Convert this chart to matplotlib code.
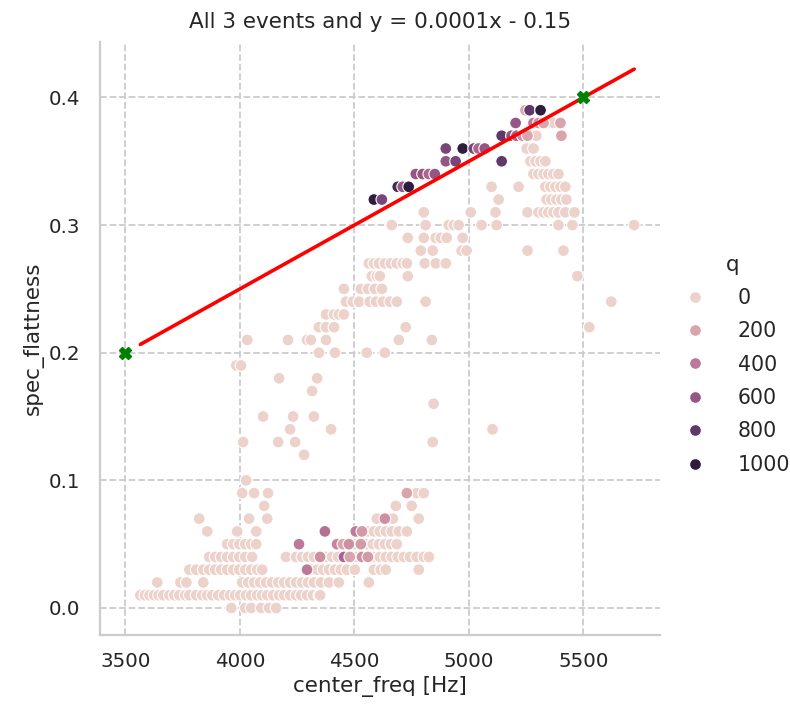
import matplotlib
matplotlib.use("Agg")
import numpy as np
import pandas as pd
import matplotlib.pyplot as plt
import seaborn as sns

# light points (q = 0), one row of spec_flattness per line
rows_flat = [0.00, 0.01, 0.02, 0.03, 0.04, 0.05, 0.06, 0.07, 0.08, 0.09, 0.10,
             0.12, 0.13, 0.14, 0.15, 0.16, 0.17, 0.18, 0.19, 0.20, 0.21, 0.22,
             0.23, 0.24, 0.25, 0.26, 0.27, 0.28, 0.29, 0.30, 0.31, 0.32, 0.33,
             0.34, 0.35, 0.36, 0.37, 0.38]
rows_freq = [
    [3962, 4023, 4049, 4093, 4127, 4158],
    [3565, 3585, 3605, 3625, 3645, 3665, 3692, 3713, 3735, 3761, 3779, 3809, 3835,
     3857, 3879, 3905, 3931, 3957, 3979, 4001, 4027, 4049, 4075, 4097, 4119, 4145,
     4171, 4193, 4219, 4245, 4267, 4293, 4319, 4345, 4350],
    [3639, 3740, 3766, 3840, 4010, 4036, 4062, 4088, 4114, 4140, 4167, 4193, 4219,
     4245, 4271, 4297, 4323, 4354, 4389, 4432, 4563],
    [3779, 3809, 3840, 3866, 3892, 3918, 3944, 3971, 3997, 4023, 4049, 4075, 4097,
     4315, 4337, 4363, 4389, 4415, 4441, 4467, 4502, 4585, 4615, 4637, 4781],
    [3866, 3892, 3918, 3944, 3971, 3997, 4023, 4053, 4201, 4245, 4271, 4297, 4323,
     4376, 4402, 4428, 4506, 4585, 4611, 4637, 4663, 4689, 4716, 4742, 4772, 4803, 4825],
    [3944, 3971, 3997, 4023, 4049, 4071, 4502, 4554, 4580, 4607, 4633, 4659, 4685],
    [3857, 3988, 4071, 4559, 4585, 4611, 4637, 4663, 4694, 4729],
    [3822, 4040, 4119, 4598, 4668, 4781],
    [4106, 4681, 4750],
    [4010, 4062, 4123, 4772, 4803],
    [4027],
    [4280],
    [4014, 4167, 4241, 4842],
    [4219, 4398, 5103],
    [4101, 4232, 4323],
    [4846],
    [4315],
    [4171, 4337],
    [3984, 4005],
    [4345, 4415, 4554, 4633],
    [4032, 4210, 4293, 4310, 4376, 4694, 4838],
    [4345, 4376, 4411, 4724, 5526],
    [4376, 4411, 4432, 4454],
    [4463, 4493, 4520, 4567, 4594, 4624, 4655, 4685, 4811, 5622],
    [4454, 4528, 4559, 4589, 4620],
    [4576, 4598, 4611, 4733, 5474],
    [4563, 4585, 4607, 4633, 4659, 4685, 4711, 4729, 4807, 4855, 4899],
    [4790, 4842, 4968, 4990, 5256, 5413],
    [4733, 4803, 4855, 4877, 4903, 4973],
    [4663, 4811, 4912, 4934, 4955, 5055, 5121, 5391, 5452, 5722],
    [4803, 5008, 5116, 5256, 5304, 5326, 5347, 5369, 5391, 5421, 5461],
    [5130, 5339, 5360, 5382, 5404, 5426],
    [5099, 5217, 5334, 5356, 5378, 5400, 5421],
    [5282, 5304, 5326, 5347, 5369, 5391],
    [5269, 5291, 5313, 5334],
    [5252, 5282],
    [5295],
    [5347, 5369],
]

# coloured points (q > 0)
hue_freq = [4293, 4350, 4454, 4480, 4533, 4559, 4258, 4424, 4450, 4476, 4528,
            4371, 4506, 4533, 4633, 4729,
            4585, 4620, 4689, 4711, 4737, 4768, 4798, 4825, 4851, 4899, 4942,
            5143, 4899, 4973, 5021, 5042, 5069, 5143, 5186, 5208, 5234, 5256,
            5404, 5204, 5282, 5304, 5326, 5400, 5247, 5265, 5313]
hue_flat = [0.03, 0.04, 0.04, 0.04, 0.04, 0.04, 0.05, 0.05, 0.05, 0.05, 0.05,
            0.06, 0.06, 0.06, 0.07, 0.09,
            0.32, 0.32, 0.33, 0.33, 0.33, 0.34, 0.34, 0.34, 0.34, 0.35, 0.35,
            0.35, 0.36, 0.36, 0.36, 0.36, 0.36, 0.37, 0.37, 0.37, 0.37, 0.37,
            0.37, 0.38, 0.38, 0.38, 0.38, 0.38, 0.39, 0.39, 0.39]
hue_q = [400, 300, 500, 200, 300, 250, 400, 350, 200, 300, 250,
         450, 400, 250, 300, 200,
         1000, 700, 900, 600, 1000, 600, 600, 500, 600, 600, 700,
         800, 700, 1000, 700, 500, 600, 800, 600, 500, 300, 200,
         200, 600, 400, 300, 200, 200, 200, 800, 1000]

# reference points of the line y = 0.0001x - 0.15
ref_x = [3500, 5500]
ref_y = [0.2, 0.4]

light_freq = [f for row in rows_freq for f in row]
light_flat = [v for v, row in zip(rows_flat, rows_freq) for _ in row]
df = pd.DataFrame({
    "center_freq": light_freq + hue_freq,
    "spec_flattness": light_flat + hue_flat,
    "q": [0] * len(light_freq) + hue_q,
})

sns.set_theme(style="whitegrid", rc={"grid.linestyle": "--"})
plt.rcParams.update({
    "grid.linewidth": 1.3,
    "grid.color": "#cccccc",
    "axes.edgecolor": "#cccccc",
    "axes.linewidth": 1.6,
    "xtick.major.size": 0,
    "ytick.major.size": 0,
    "xtick.major.pad": 12,
    "ytick.major.pad": 14,
})

fig = plt.figure(figsize=(7.9, 7.15), dpi=100)
ax = fig.add_axes([0.1266, 0.112, 0.835 - 0.1266, 0.941 - 0.112])

sns.scatterplot(data=df, x="center_freq", y="spec_flattness", hue="q",
                s=72, edgecolor="white", linewidth=0.8, ax=ax)

x_line = np.array([df["center_freq"].min(), df["center_freq"].max()])
ax.plot(x_line, 0.0001 * x_line - 0.15, color="red", lw=2.6, zorder=3)
ax.plot(ref_x, ref_y, "X", color="green", ms=9, zorder=4)

ax.set_title("All 3 events and y = 0.0001x - 0.15", fontsize=15.5, pad=10)
ax.set_xlabel("center_freq [Hz]", fontsize=15.5)
ax.set_ylabel("spec_flattness", fontsize=15.5)
ax.tick_params(labelsize=14.3)
ax.set_xticks([3500, 4000, 4500, 5000, 5500])
sns.despine(ax=ax)

handles, labels = ax.get_legend_handles_labels()
ax.get_legend().remove()
fig.legend(handles, labels, title="q", loc="center left",
           bbox_to_anchor=(0.83, 0.49), frameon=False, fontsize=14.8,
           title_fontsize=15.5, labelspacing=0.65, handletextpad=1.1)

fig.savefig("out.png", dpi=100)
